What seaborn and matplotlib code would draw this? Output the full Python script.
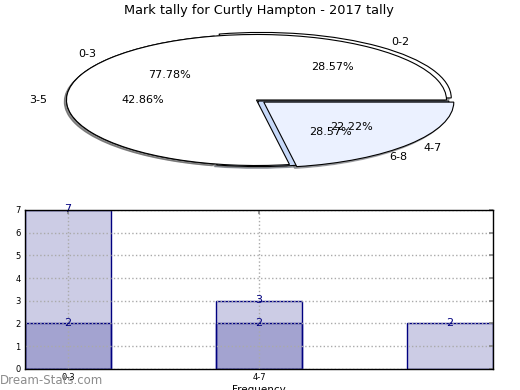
import matplotlib
matplotlib.use("Agg")
import matplotlib.pyplot as plt
import seaborn as sns
import pandas as pd

# Dados do gráfico
title = "Mark tally for Curtly Hampton - 2017 tally"
labels_a = ["0-3", "4-7"]
counts_a = [7, 2]
labels_b = ["0-2", "3-5", "6-8"]
counts_b = [2, 3, 2]
colors_a = ["white", "#ebf1ff"]
colors_b = ["white", "white", "#c6d8f8"]

sns.set_theme(style="white")
plt.rcParams["font.family"] = ["DejaVu Sans"]
plt.rcParams.update({"text.color": "black", "axes.labelcolor": "black",
                     "xtick.color": "black", "ytick.color": "black"})

fig = plt.figure(figsize=(5.2, 3.9), dpi=100)

# 1. Pizza (duas séries sobrepostas)
ax_pie = fig.add_axes([0.0365, 0.5336, 0.9135, 0.42])
wp = dict(edgecolor="black", linewidth=0.8)
sh = dict(ox=-0.008, oy=-0.02, shade=0.6)
ax_pie.pie(counts_b, labels=labels_b, colors=colors_b, explode=(0.04, 0, 0.02),
           autopct="%.2f%%", shadow=sh, startangle=0, wedgeprops=wp,
           textprops=dict(fontsize=8, color="black"))
ax_pie.pie(counts_a, labels=labels_a, colors=colors_a, explode=(0, 0.05),
           autopct="%.2f%%", shadow=sh, startangle=0, wedgeprops=wp,
           textprops=dict(fontsize=8, color="black"))
ax_pie.set_aspect("auto")
ax_pie.set_xlim(-1.25, 1.25)
ax_pie.set_ylim(-1.25, 1.25)
ax_pie.axis("off")
fig.text(0.498, 0.974, title, ha="center", va="center", fontsize=9.3)

# 2. Barras sobrepostas
ax = fig.add_axes([0.048, 0.054, 0.9, 0.408])
df_a = pd.DataFrame({"pos": range(len(counts_a)), "count": counts_a})
df_b = pd.DataFrame({"pos": range(len(counts_b)), "count": counts_b})
for df in (df_a, df_b):
    sns.barplot(data=df, x="pos", y="count", native_scale=True, width=0.45,
                errorbar=None, saturation=1, color="navy", ax=ax)
for p in ax.patches:
    p.set_facecolor((0, 0, 0.5, 0.2))
    p.set_edgecolor("navy")
    p.set_linewidth(1)
for df in (df_a, df_b):
    for x, v in zip(df["pos"], df["count"]):
        ax.text(x, v - 0.1, str(v), ha="center", va="baseline",
                color="navy", fontsize=8)

ax.set_xlim(-0.225, 2.225)
ax.set_ylim(0, 7)
ax.set_xticks([0, 1], labels_a)
ax.set_yticks(range(8))
ax.set_axisbelow("line")
ax.grid(True, linestyle=":", color="#aaaaaa", linewidth=1)
ax.tick_params(direction="in", top=True, right=True, length=3, labelsize=6,
               pad=3, color="#888888")
for s in ax.spines.values():
    s.set_color("black")
    s.set_linewidth(1)
    s.set_zorder(3)
ax.set_xlabel("Frequency", fontsize=7.5, labelpad=2)
ax.set_ylabel("")

fig.text(0.0, 0.025, "Dream-Stats.com", ha="left", va="center",
         fontsize=8.5, color="#8c8c8c")

fig.savefig("out.png", dpi=100)
